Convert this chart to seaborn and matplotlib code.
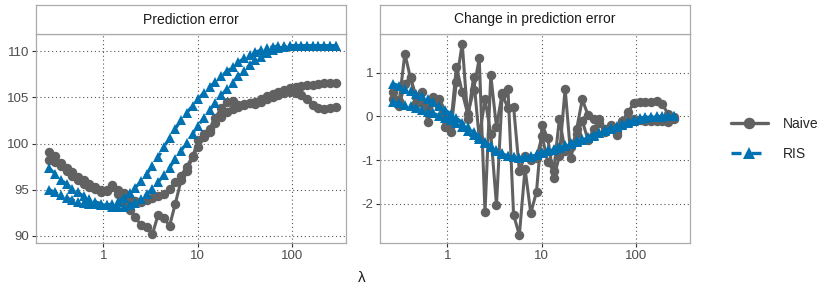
import matplotlib
matplotlib.use("Agg")
import matplotlib.pyplot as plt
import numpy as np
import pandas as pd
import seaborn as sns
from matplotlib.ticker import FixedLocator, NullLocator

# lambda grid (x values)
lam = [0.269, 0.310, 0.356, 0.409, 0.470, 0.541, 0.622, 0.715, 0.822, 0.945,
       1.09, 1.25, 1.44, 1.65, 1.90, 2.18, 2.51, 2.89, 3.32, 3.81,
       4.39, 5.04, 5.80, 6.66, 7.66, 8.81, 10.1, 11.6, 13.4, 15.4,
       17.7, 20.4, 23.4, 26.9, 30.9, 35.6, 40.9, 47.0, 54.0, 62.1,
       71.4, 82.1, 94.4, 109, 125, 144, 165, 190, 218, 251,
       288]

# Prediction error (two runs per method)
err_naive_a = [99.1, 98.6, 97.9, 97.4, 96.9, 96.4, 96.0, 95.6, 95.3, 95.0, 94.9, 95.3,
               94.5, 93.7, 92.8, 92.0, 91.2, 91.0, 90.2, 92.3, 91.9, 91.1, 93.5, 96.0, 97.0, 98.5,
               100.4, 101.0, 101.6, 102.8, 103.8, 104.5, 104.6, 104.2, 104.3, 104.4, 104.5,
               104.8, 105.1, 105.4, 105.6, 105.8, 106.0, 106.1, 106.2, 106.3, 106.35, 106.4, 106.5, 106.55, 106.6]
err_naive_b = [98.2, 98.0, 97.6, 97.0, 96.5, 96.0, 95.6, 95.3, 95.1, 94.8, 95.0, 95.5,
               95.0, 94.6, 94.0, 93.8, 93.7, 93.9, 94.1, 94.3, 94.5, 95.1, 95.8, 96.5, 97.5, 98.6,
               99.6, 100.7, 101.2, 102.2, 102.9, 103.4, 103.7, 104.0, 104.2, 104.4, 104.3,
               104.5, 104.8, 105.0, 105.3, 105.5, 105.6, 105.5, 105.2, 104.8, 104.2, 103.8, 103.7, 103.85, 103.9]
err_ris_a = [95.0, 94.7, 94.4, 94.1, 93.9, 93.7, 93.6, 93.5, 93.4, 93.35, 93.35, 93.45, 93.7,
             94.1, 94.6, 95.2, 95.9, 96.7, 97.6, 98.5, 99.6, 100.6, 101.6, 102.5, 103.3, 104.1,
             104.8, 105.5, 106.1, 106.7, 107.3, 107.8, 108.3, 108.8, 109.2, 109.6, 109.9, 110.1,
             110.3, 110.45, 110.55, 110.6, 110.6, 110.6, 110.6, 110.6, 110.6, 110.6, 110.6, 110.6, 110.6]
err_ris_b = [97.3, 96.7, 96.1, 95.6, 95.1, 94.7, 94.3, 94.0, 93.7, 93.5, 93.3, 93.15, 93.1,
             93.15, 93.3, 93.6, 94.0, 94.5, 95.1, 95.8, 96.6, 97.4, 98.3, 99.2, 100.1, 101.0,
             101.9, 102.8, 103.6, 104.4, 105.2, 105.9, 106.6, 107.3, 107.9, 108.5, 109.0, 109.4,
             109.8, 110.1, 110.3, 110.45, 110.55, 110.6, 110.6, 110.6, 110.6, 110.6, 110.6, 110.6, 110.6]

# Change in prediction error (first 50 lambdas)
chg_naive_a = [0.56, 0.35, 1.44, 0.87, 0.45, 0.30, 0.20, 0.45, 0.40, 0.05,
               -0.20, 1.14, 0.55, 0.05, 0.60, 1.33, -2.19, 0.95, -0.25, 0.53,
               0.64, -2.26, -2.72, -1.20, -2.22, -1.73, -0.20, -0.50, -1.42, -0.90,
               0.64, -0.96, -0.30, 0.39, 0.03, -0.05, -0.05, -0.30, -0.25, -0.43,
               -0.10, 0.10, 0.30, 0.32, 0.33, 0.34, 0.36, 0.28, 0.05, -0.02]
chg_naive_b = [0.40, 0.25, 0.75, 0.90, 0.30, 0.55, -0.12, 0.35, 0.25, -0.25,
               -0.35, 0.80, 1.67, -0.05, 0.90, -0.50, 0.40, -0.40, -2.03, 0.50,
               0.20, 0.22, -1.25, -0.90, -1.00, -0.95, -0.45, -1.05, -1.25, -0.05,
               -0.80, -0.70, -0.40, -0.10, -0.54, -0.30, -0.15, -0.35, -0.20, -0.35,
               -0.20, -0.10, -0.05, -0.08, -0.10, -0.10, -0.10, -0.10, -0.12, -0.05]
chg_ris_a = [0.75, 0.70, 0.64, 0.58, 0.52, 0.46, 0.39, 0.32, 0.24, 0.15,
             0.06, -0.04, -0.14, -0.25, -0.36, -0.47, -0.58, -0.68, -0.77, -0.85,
             -0.91, -0.94, -0.95, -0.93, -0.90, -0.86, -0.82, -0.78, -0.74, -0.70,
             -0.66, -0.62, -0.57, -0.52, -0.47, -0.42, -0.37, -0.32, -0.27, -0.22,
             -0.17, -0.12, -0.08, -0.04, -0.02, -0.01, 0.0, 0.0, 0.0, 0.0]
chg_ris_b = [0.33, 0.30, 0.27, 0.23, 0.19, 0.15, 0.11, 0.07, 0.02, -0.03,
             -0.09, -0.16, -0.24, -0.33, -0.42, -0.52, -0.62, -0.71, -0.79, -0.86,
             -0.91, -0.94, -0.95, -0.94, -0.92, -0.88, -0.84, -0.80, -0.76, -0.72,
             -0.68, -0.64, -0.59, -0.54, -0.49, -0.44, -0.39, -0.34, -0.29, -0.24,
             -0.19, -0.14, -0.10, -0.06, -0.03, -0.02, -0.01, -0.01, 0.0, 0.0]

methods = ['Naive', 'RIS']
colors = {'Naive': '#616161', 'RIS': '#0072B2'}
msize = {'o': 6.8, '^': 7.8}


def to_long(series):
    rows = []
    for (method, rep), vals in series.items():
        for x, y in zip(lam, vals):
            rows.append({'lam': x, 'value': y, 'method': method, 'rep': rep})
    return pd.DataFrame(rows)


df_err = to_long({('Naive', 1): err_naive_a, ('Naive', 2): err_naive_b,
                  ('RIS', 1): err_ris_a, ('RIS', 2): err_ris_b})
df_chg = to_long({('Naive', 1): chg_naive_a, ('Naive', 2): chg_naive_b,
                  ('RIS', 1): chg_ris_a, ('RIS', 2): chg_ris_b})

sns.set_style("white")
plt.rcParams['font.family'] = ['Liberation Sans', 'DejaVu Sans']

W, H = 830, 297
fig = plt.figure(figsize=(W / 100, H / 100), dpi=100)

panels = [
    (df_err, 'Prediction error', 36, [90, 95, 100, 105, 110], (89.2, 111.85)),
    (df_chg, 'Change in prediction error', 380, [-2, -1, 0, 1], (-2.91, 1.89)),
]
plot_top, plot_bot = 34, 243.3
strip_top = 5
handles = labels = None
for k, (df, title, x0, yt, ylim) in enumerate(panels):
    ax = fig.add_axes([x0 / W, 1 - plot_bot / H, 310 / W, (plot_bot - plot_top) / H])
    sns.lineplot(data=df, x='lam', y='value', hue='method', style='method',
                 units='rep', estimator=None, hue_order=methods, style_order=methods,
                 palette=colors, markers={'Naive': 'o', 'RIS': '^'},
                 dashes={'Naive': '', 'RIS': (3, 3)},
                 markersize=7, markeredgewidth=0, linewidth=2.2,
                 sort=False, ax=ax, legend=(k == 0))
    for ln in ax.lines:
        m = ln.get_marker()
        if m in msize:
            ln.set_markersize(msize[m])
    if k == 0:
        handles, labels = ax.get_legend_handles_labels()
        ax.get_legend().remove()
    ax.set_xscale('log')
    ax.set_xlim(10 ** -0.712, 10 ** 2.57)
    ax.set_ylim(*ylim)
    ax.xaxis.set_major_locator(FixedLocator([1, 10, 100]))
    ax.xaxis.set_minor_locator(NullLocator())
    ax.set_xticklabels(['1', '10', '100'])
    ax.set_yticks(yt)
    ax.set_yticklabels([str(v) for v in yt])
    ax.set_xlabel('')
    ax.set_ylabel('')
    ax.grid(True, which='major', linestyle=(0, (1, 2.5)), color='#555555', linewidth=0.8)
    ax.set_axisbelow(True)
    for s in ax.spines.values():
        s.set_color('#ababab')
        s.set_linewidth(0.9)
    ax.tick_params(axis='both', length=3, width=0.8, color='#333333',
                   labelcolor='#4d4d4d', labelsize=9.5, pad=2, direction='out',
                   bottom=True, left=True)

    sax = fig.add_axes([x0 / W, 1 - plot_top / H, 310 / W, (plot_top - strip_top) / H])
    sax.set_xticks([])
    sax.set_yticks([])
    sax.set_facecolor('white')
    for s in sax.spines.values():
        s.set_color('#ababab')
        s.set_linewidth(0.9)
    sax.text(0.5, 0.5, title, ha='center', va='center', fontsize=10, color='#1a1a1a',
             transform=sax.transAxes)

for h in handles:
    h.set_linewidth(2.4)
    if h.get_marker() in msize:
        h.set_markersize(msize[h.get_marker()] + 1.5)

fig.text(362 / W, 1 - 278 / H, 'λ', ha='center', va='center', fontsize=11, color='#1a1a1a')

fig.legend(handles, labels, loc='center left', bbox_to_anchor=(718 / W, 1 - 139 / H),
           frameon=False, fontsize=10, handlelength=2.7, labelspacing=1.2,
           handletextpad=1.1)

fig.savefig('out.png', dpi=100)
